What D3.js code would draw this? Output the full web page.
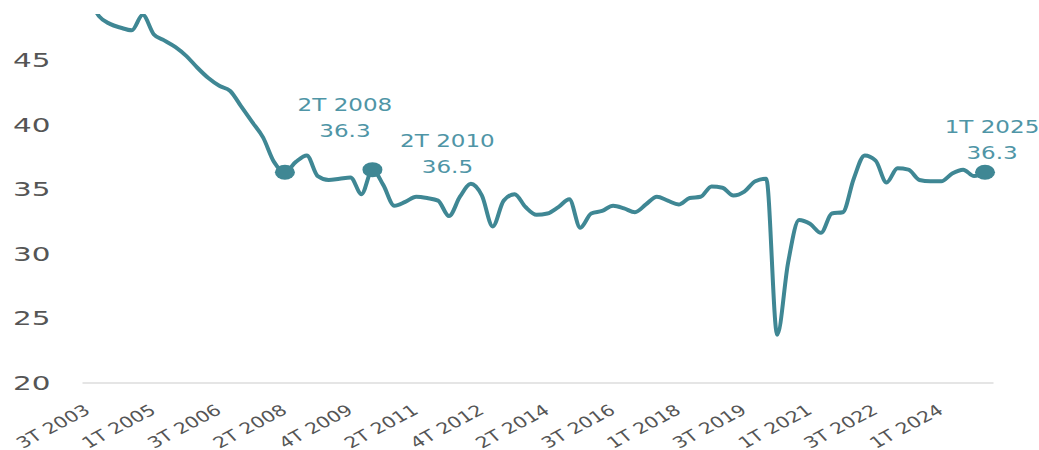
<!DOCTYPE html>
<html>
<head>
<meta charset="utf-8">
<script src="https://cdn.jsdelivr.net/npm/d3@7"></script>
<style>
  body { margin: 0; background: #fff; }
  svg { display: block; }
</style>
</head>
<body>
<svg id="chart" width="1039" height="450"></svg>
<script>
// quarterly values, one per category step
const values = [
  50.0, 48.4, 47.8, 47.5, 47.3, 48.5, 47.0, 46.5, 46.0, 45.3,
  44.4, 43.6, 43.0, 42.6, 41.4, 40.2, 39.0, 37.1, 36.3, 37.1,
  37.6, 36.0, 35.7, 35.8, 35.9, 34.6, 36.5, 35.3, 33.7, 34.0,
  34.4, 34.3, 34.1, 32.9, 34.4, 35.4, 34.5, 32.1, 34.1, 34.6,
  33.6, 33.0, 33.1, 33.6, 34.2, 32.0, 33.1, 33.3, 33.7, 33.5,
  33.2, 33.8, 34.4, 34.1, 33.8, 34.3, 34.4, 35.2, 35.1, 34.5,
  34.8, 35.6, 35.8, 23.7, 29.3, 32.6, 32.3, 31.6, 33.1, 33.2,
  35.8, 37.6, 37.2, 35.5, 36.6, 36.5, 35.7, 35.6, 35.6, 36.2,
  36.5, 36.0, 36.3
];

const tickLabels = [
  "3T 2003", "1T 2005", "3T 2006", "2T 2008", "4T 2009", "2T 2011", "4T 2012",
  "2T 2014", "3T 2016", "1T 2018", "3T 2019", "1T 2021", "3T 2022", "1T 2024"
];
const tickEvery = 6;

const yTicks = [20, 25, 30, 35, 40, 45];

const highlightIndex = [18, 26, 82];
const highlightLabels = ["2T 2008", "2T 2010", "1T 2025"];

// label offsets relative to the dot (layout only)
const labelOffsets = [
  {dx: 60, dy: -61},
  {dx: 75, dy: -23},
  {dx: 7, dy: -39}
];

const lineColor = "#3f8794";
const noteColor = "#4f95a6";

const svg = d3.select("#chart");

const x = d3.scaleLinear()
  .domain([-0.55, values.length - 1 + 0.73])
  .range([82, 993]);

const y = d3.scaleLinear()
  .domain([20, 45])
  .range([382.5, 60]);

svg.append("defs").append("clipPath")
  .attr("id", "plot-clip")
  .append("rect")
  .attr("x", 0).attr("y", 14)
  .attr("width", 1039).attr("height", 436);

// y labels
svg.append("g")
  .selectAll("text")
  .data(yTicks)
  .enter()
  .append("text")
  .attr("transform", d => "translate(13," + (y(d) + 7) + ") scale(1.55,1)")
  .style("font-family", "DejaVu Sans, sans-serif")
  .style("font-size", "19px")
  .style("fill", "#555")
  .text(d => d);

// x axis
const xAxis = svg.append("g")
  .attr("transform", "translate(0," + y(20) + ")")
  .call(d3.axisBottom(x)
    .tickValues(d3.range(0, tickLabels.length * tickEvery, tickEvery))
    .tickSize(0)
    .tickFormat((d, i) => tickLabels[i]));

xAxis.select(".domain")
  .attr("stroke", "#dcdcdc")
  .attr("stroke-width", 1.5);

// stretched, tilted labels as in the source image
xAxis.selectAll(".tick text")
  .attr("y", 0)
  .attr("dy", 0)
  .attr("transform", "translate(3,30) scale(1.32,1) rotate(-35)")
  .attr("text-anchor", "end")
  .style("font-family", "DejaVu Sans, sans-serif")
  .style("font-size", "15.5px")
  .style("fill", "#555");

// line
const line = d3.line()
  .x((d, i) => x(i))
  .y(d => y(d))
  .curve(d3.curveMonotoneX);

svg.append("path")
  .datum(values)
  .attr("clip-path", "url(#plot-clip)")
  .attr("fill", "none")
  .attr("stroke", lineColor)
  .attr("stroke-width", 4)
  .attr("stroke-linejoin", "round")
  .attr("d", line);

// highlighted points
svg.append("g")
  .selectAll("ellipse")
  .data(highlightIndex)
  .enter()
  .append("ellipse")
  .attr("cx", d => x(d))
  .attr("cy", d => y(values[d]))
  .attr("rx", 10)
  .attr("ry", 7.5)
  .attr("fill", lineColor);

const notes = svg.append("g")
  .selectAll("g")
  .data(highlightIndex)
  .enter()
  .append("g")
  .style("font-family", "DejaVu Sans, sans-serif")
  .style("font-size", "18px")
  .style("fill", noteColor)
  .attr("text-anchor", "middle");

notes.append("text")
  .attr("transform", (d, i) =>
    "translate(" + (x(d) + labelOffsets[i].dx) + "," + (y(values[d]) + labelOffsets[i].dy) + ") scale(1.28,1)")
  .text((d, i) => highlightLabels[i]);

notes.append("text")
  .attr("transform", (d, i) =>
    "translate(" + (x(d) + labelOffsets[i].dx) + "," + (y(values[d]) + labelOffsets[i].dy + 26) + ") scale(1.28,1)")
  .text(d => d3.format(".1f")(values[d]));
</script>
</body>
</html>
